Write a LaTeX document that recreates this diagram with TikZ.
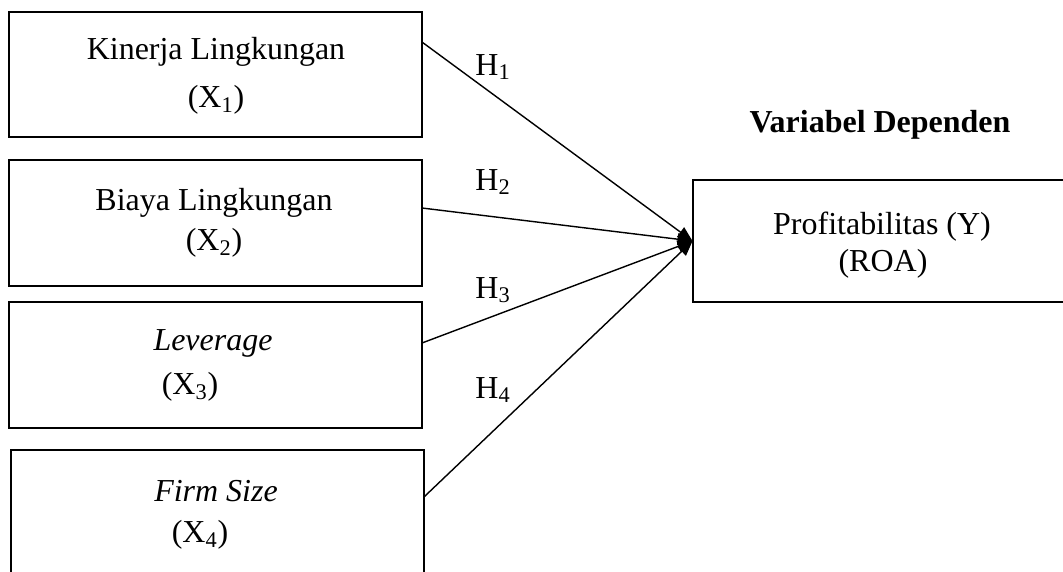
\documentclass[tikz,border=0pt]{standalone}
\usepackage{fontspec}
\setmainfont{Liberation Serif}
\usepackage{tikz}
\usetikzlibrary{arrows.meta, positioning, calc}

\begin{document}
\begin{tikzpicture}[
    x=0.02cm, y=-0.02cm,
    >={Triangle[length=0.3cm, width=0.24cm]},
    arr/.style={->, line width=0.8pt},
    lbl/.style={font=\fontsize{18.2}{22}\selectfont, inner sep=0pt},
    var/.style={draw, line width=1.1pt, minimum width=8.26cm, inner sep=0pt, outer sep=0pt},
]
\useasboundingbox (0,0) rectangle (1063,572);
\clip (0,0) rectangle (1063,572);
% === LEFT: independent variables ===
\node[var, minimum height=2.5cm] (x1) at (215.5, 74.5) {};
\node[var, minimum height=2.52cm] (x2) at (215.5, 223) {};
\node[var, minimum height=2.52cm] (x3) at (215.5, 365) {};
\node[var, minimum height=3cm] (x4) at (217.5, 525) {};
%
\node[lbl] (t1a) at (216, 52) {Kinerja Lingkungan};
\node[lbl] (t1b) at (216, 100) {(X\textsubscript{1})};
\node[lbl] (t2a) at (214, 203) {Biaya Lingkungan};
\node[lbl] (t2b) at (214, 243) {(X\textsubscript{2})};
\node[lbl] (t3a) at (213, 343) {\itshape Leverage};
\node[lbl] (t3b) at (190, 387) {(X\textsubscript{3})};
\node[lbl] (t4a) at (216, 491) {\itshape Firm Size};
\node[lbl] (t4b) at (200, 535) {(X\textsubscript{4})};
% === RIGHT: dependent variable ===
\node[lbl, font=\fontsize{18.2}{22}\selectfont\bfseries] (dep) at (880, 125) {Variabel Dependen};
\node[var, minimum width=8.3cm, minimum height=2.44cm] (y) at (900, 241) {};
\node[lbl] (tya) at (882, 227) {Profitabilitas (Y)};
\node[lbl] (tyb) at (883, 264) {(ROA)};
% === Hypothesis arrows ===
\foreach \i/\dy in {1/0.65cm, 2/0.3cm, 3/0.44cm, 4/0.56cm} {
    \draw[arr] ([yshift=\dy]x\i.east) -- (y.west);
}
\foreach \i/\yy in {1/67, 2/182, 3/290, 4/390} {
    \node[lbl] (h\i) at (493, \yy) {H\textsubscript{\i}};
}
\end{tikzpicture}
\end{document}
